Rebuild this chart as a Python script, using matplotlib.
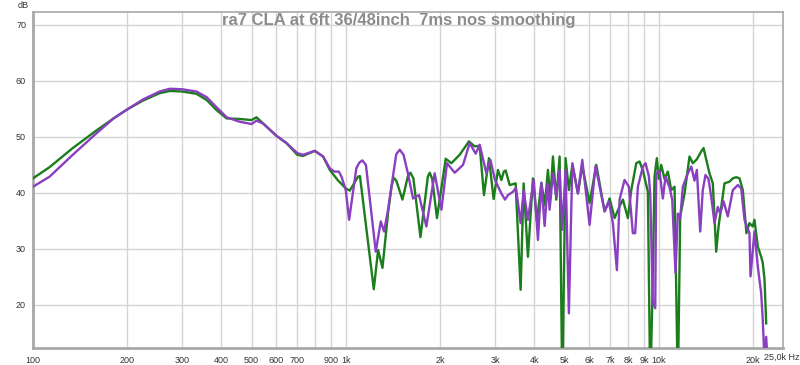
import matplotlib
matplotlib.use("Agg")
import matplotlib.pyplot as plt
from matplotlib.ticker import FixedLocator, FixedFormatter, NullLocator

plt.rcParams['font.family'] = ['Liberation Sans', 'DejaVu Sans']

title = "ra7 CLA at 6ft 36/48inch  7ms nos smoothing"

green_f = [100, 113, 134, 160, 181, 200, 225, 254, 274, 300, 333, 359, 386, 416, 458, 500, 518, 544,
           579, 600, 646, 700, 730, 796, 846, 889, 945, 969, 1000, 1030, 1095, 1110, 1229, 1269, 1310,
           1365, 1400, 1423, 1450, 1518, 1580, 1610, 1645, 1733, 1830, 1855, 1890, 1957, 2087, 2176, 2313, 2477, 2583, 2680, 2766,
           2870, 2970, 3066, 3144, 3200, 3245, 3342, 3492, 3623, 3704, 3823, 3967, 4085, 4220, 4330,
           4429, 4508, 4596, 4711, 4828, 4923, 5045, 5168, 5302, 5524, 5704, 6019, 6324, 6722, 6937,
           6973, 7236, 7507, 7691, 7980, 8182, 8489, 8697, 8911, 9245, 9408, 9548, 9710, 9877, 10020,
           10200, 10450, 10710, 10980, 11250, 11527, 11730, 12110, 12560, 12870, 13260, 13690, 13928,
           14130, 14550, 14910, 15289, 15550, 16250, 16860, 17280, 17710, 18150, 18600, 18830, 19100,
           19530, 20010, 20260, 20770, 21290, 21540, 21820, 22090]
green_db = [42.6, 44.6, 48.0, 51.2, 53.3, 54.9, 56.5, 57.8, 58.2, 58.1, 57.7, 56.6, 54.8, 53.3, 53.2, 53.0, 53.5, 52.4,
            51.0, 50.2, 48.9, 46.8, 46.6, 47.5, 46.5, 44.1, 42.2, 41.6, 40.8, 40.4, 42.9, 43.0, 22.8, 29.8, 26.6,
            36.4, 41.1, 42.7, 42.2, 38.8, 43.0, 43.6, 42.6, 32.1, 42.9, 43.6, 42.5, 35.5, 46.1, 45.3, 46.8, 49.2, 48.3, 48.4, 39.6,
            46.2, 38.9, 44.1, 42.3, 43.8, 44.0, 41.4, 41.7, 22.7, 41.7, 28.6, 42.6, 35.0, 41.8, 37.8,
            44.1, 39.0, 46.5, 38.8, 46.5, 5.0, 46.2, 40.5, 45.0, 39.9, 44.8, 38.2, 45.0, 36.7, 38.5,
            39.0, 35.5, 37.6, 38.8, 35.5, 40.5, 45.3, 45.6, 44.0, 40.2, 5.0, 20.3, 42.9, 46.2, 42.5,
            45.0, 42.5, 43.8, 40.5, 41.1, 5.0, 35.8, 39.9, 46.5, 45.3, 46.0, 47.4, 48.0,
            46.5, 43.5, 41.7, 29.5, 33.9, 41.7, 42.0, 42.6, 42.8, 42.6, 40.5, 37.0, 32.8,
            34.6, 34.0, 35.2, 30.4, 28.6, 27.5, 24.5, 16.7]

purple_f = [100, 113, 134, 160, 181, 200, 225, 254, 274, 300, 333, 359, 386, 416, 458, 500, 518, 544,
            579, 600, 646, 700, 730, 796, 846, 889, 920, 950, 969, 1000, 1025, 1081, 1105, 1130, 1160, 1247, 1294,
            1326, 1365, 1400, 1450, 1488, 1530, 1580, 1641, 1715, 1810, 1924, 2022, 2107, 2230, 2371, 2490, 2602, 2680,
            2815, 2900, 3000, 3144, 3230, 3300, 3424, 3500, 3623, 3704, 3823, 3990, 4116, 4220, 4323,
            4420, 4485, 4596, 4711, 4828, 4923, 5045, 5168, 5302, 5524, 5704, 6019, 6290, 6722, 6937,
            7145, 7360, 7507, 7786, 8039, 8278, 8420, 8589, 8911, 9088, 9312, 9408, 9590, 9760, 9830,
            10070, 10320, 10530, 10840, 11060, 11330, 11527, 11730, 11960, 12410, 12725, 13030, 13260,
            13590, 13850, 14130, 14440, 14740, 15100, 15470, 15750, 16140, 16650, 17280, 17930, 18380,
            18830, 19530, 19680, 20260, 20770, 21290, 21540, 21820, 22090, 22300]
purple_db = [41.1, 42.9, 46.8, 50.7, 53.3, 54.9, 56.7, 58.1, 58.6, 58.5, 58.1, 57.1, 55.3, 53.5, 52.7, 52.3, 52.9, 52.4,
             51.0, 50.2, 48.9, 47.1, 46.8, 47.5, 46.5, 44.4, 43.8, 43.8, 42.9, 40.5, 35.2, 44.4, 45.4, 45.8, 45.0, 29.5, 34.9,
             33.1, 37.0, 41.1, 46.9, 47.7, 46.8, 43.5, 39.0, 39.6, 34.0, 43.5, 37.0, 45.3, 43.6, 45.0, 48.9, 47.0, 48.6,
             43.5, 45.9, 42.3, 39.9, 38.8, 39.6, 40.2, 40.9, 34.6, 40.4, 35.2, 42.4, 31.6, 41.8, 34.1,
             41.7, 37.0, 43.5, 39.3, 44.1, 33.4, 44.1, 18.5, 45.3, 39.9, 45.9, 34.3, 44.8, 36.7, 38.5,
             34.6, 26.2, 38.8, 42.3, 41.1, 32.8, 32.8, 41.1, 44.7, 45.3, 43.0, 39.6, 20.3, 19.4, 43.5,
             44.0, 39.0, 42.9, 41.0, 38.8, 25.7, 36.3, 35.5, 41.1, 43.5, 44.7, 42.2, 44.1,
             33.1, 40.5, 43.2, 42.5, 39.3, 34.6, 37.5, 36.3, 38.5, 35.8, 40.5, 41.4, 40.8,
             35.2, 32.8, 25.1, 33.1, 26.8, 22.1, 17.3, 10.0, 14.3, 10.0]

x_ticks = [100, 200, 300, 400, 500, 600, 700, 800, 900, 1000, 2000, 3000, 4000, 5000, 6000,
           7000, 8000, 9000, 10000, 20000]
x_labels = ["100", "200", "300", "400", "500", "600", "700", "", "900", "1k", "2k", "3k", "4k",
            "5k", "6k", "7k", "8k", "9k", "10k", "20k"]
y_ticks = [20, 30, 40, 50, 60, 70]

W, H = 800, 365
fig = plt.figure(figsize=(W / 100, H / 100), dpi=100)
ax = fig.add_axes([33 / W, (H - 348) / H, 750 / W, 336 / H])

ax.set_xscale('log')
ax.set_xlim(100, 25000)
ax.set_ylim(12.3, 72.3)

ax.plot(green_f, green_db, color='#1b7d1b', lw=1.7, solid_joinstyle='round', zorder=3)
ax.plot(purple_f, purple_db, color='#8a3fc0', lw=1.7, solid_joinstyle='round', zorder=4)

ax.xaxis.set_major_locator(FixedLocator(x_ticks))
ax.xaxis.set_major_formatter(FixedFormatter(x_labels))
ax.xaxis.set_minor_locator(NullLocator())
ax.set_yticks(y_ticks)
ax.grid(True, color='#d4d4d4', lw=1.0, zorder=0)
ax.tick_params(axis='both', length=0, labelsize=6.5, colors='#333333')
ax.tick_params(axis='x', pad=6)
ax.tick_params(axis='y', pad=5)

for s in ax.spines.values():
    s.set_color('#a8a8a8')
    s.set_linewidth(1.2)
ax.spines['left'].set_linewidth(2.0)
ax.spines['bottom'].set_linewidth(2.0)

fig.text(764 / W, 1 - 357 / H, "25,0k Hz", ha='left', va='center', fontsize=6.5, color='#333333')
fig.text(18 / W, 1 - 5 / H, "dB", ha='left', va='center', fontsize=6.5, color='#333333')
fig.text(399 / W, 1 - 21 / H, title, ha='center', va='center', fontsize=12,
         fontweight='bold', color='#8c8c8c', zorder=5)

fig.savefig("out.png", dpi=100, facecolor='white')
